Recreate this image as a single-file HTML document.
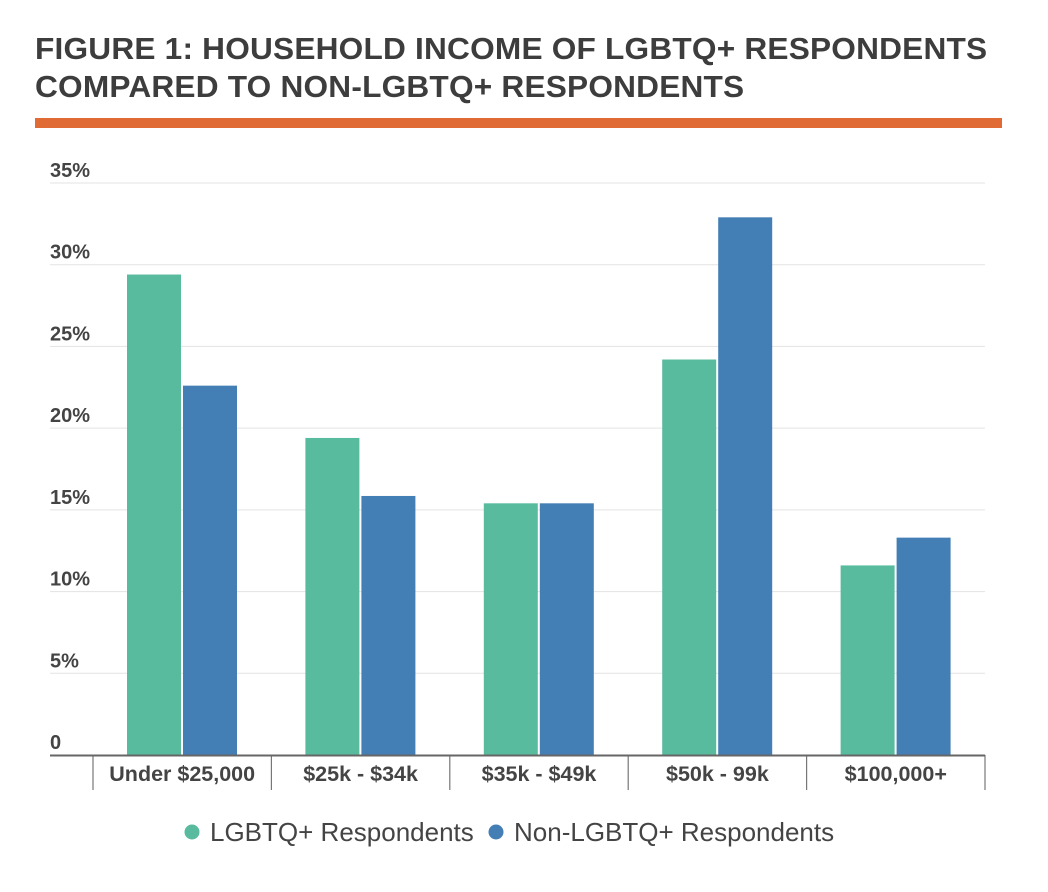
<!DOCTYPE html>
<html><head><meta charset="utf-8"><style>
body{margin:0;background:#fff;width:1048px;height:892px;overflow:hidden;font-family:"Liberation Sans",sans-serif}
#title{position:absolute;left:35px;top:30px;font-size:31px;font-weight:bold;color:#3d3d3d;line-height:38px;letter-spacing:0.2px;transform:scaleX(1.02);transform-origin:left;white-space:nowrap}
#rule{position:absolute;left:35px;top:118px;width:967px;height:10px;background:#e06b35}
svg{position:absolute;left:0;top:0}
</style></head><body>
<div id="title">FIGURE 1: HOUSEHOLD INCOME OF LGBTQ+ RESPONDENTS<br>COMPARED TO NON-LGBTQ+ RESPONDENTS</div>
<div id="rule"></div>
<svg id="chart" width="1048" height="892"></svg>
<script>
const categories=["Under $25,000","$25k - $34k","$35k - $49k","$50k - 99k","$100,000+"];
const lgbtq=[29.4,19.4,15.4,24.2,11.6];
const nonLgbtq=[22.6,15.85,15.4,32.9,13.3];
const ticks=[0,5,10,15,20,25,30,35];
const tickLabels=["0","5%","10%","15%","20%","25%","30%","35%"];
const NS="http://www.w3.org/2000/svg";
const svg=document.getElementById('chart');
const y0=755,pxPer=(755-183)/35,bandX=93,bandW=178.4;
const y=v=>y0-v*pxPer;
function mk(t,a){const e=document.createElementNS(NS,t);for(const k in a)e.setAttribute(k,a[k]);svg.appendChild(e);return e;}
ticks.forEach((t,i)=>{
 if(t>0){const g=mk('line',{x1:50,x2:985,y1:y(t),y2:y(t),stroke:'#e3e3e3','stroke-width':1});
 
 }
 const l=mk('text',{x:50,y:y(t)-6,'font-size':20,'font-weight':'bold',fill:'#444'});l.textContent=tickLabels[i];
 
 
});
categories.forEach((c,i)=>{
 const bx=bandX+i*bandW;
 const g=mk('rect',{x:bx+34,y:y(lgbtq[i]),width:54,height:y0-y(lgbtq[i]),fill:'#58bb9e'});
 
 
 const b=mk('rect',{x:bx+90,y:y(nonLgbtq[i]),width:54,height:y0-y(nonLgbtq[i]),fill:'#437eb5'});
 
 
 const t=mk('text',{x:bx+bandW/2,y:781,'font-size':21.5,'font-weight':'bold',fill:'#444','text-anchor':'middle'});t.textContent=c;
 
 
});
for(let i=0;i<=categories.length;i++){const s=mk('line',{x1:bandX+i*bandW,x2:bandX+i*bandW,y1:755,y2:790,stroke:'#777','stroke-width':1.2});
 
 }
const ax=mk('line',{x1:50,x2:985,y1:755.5,y2:755.5,stroke:'#666','stroke-width':2});


const legend=[["LGBTQ+ Respondents","#58bb9e",192,210],["Non-LGBTQ+ Respondents","#437eb5",496,514]];
legend.forEach(d=>{
 const c=mk('circle',{cx:d[2],cy:832,r:7.5,fill:d[1]});
 
 
 const t=mk('text',{x:d[3],y:841,'font-size':26,fill:'#444'});t.textContent=d[0];
 
 
});
</script>
</body></html>
